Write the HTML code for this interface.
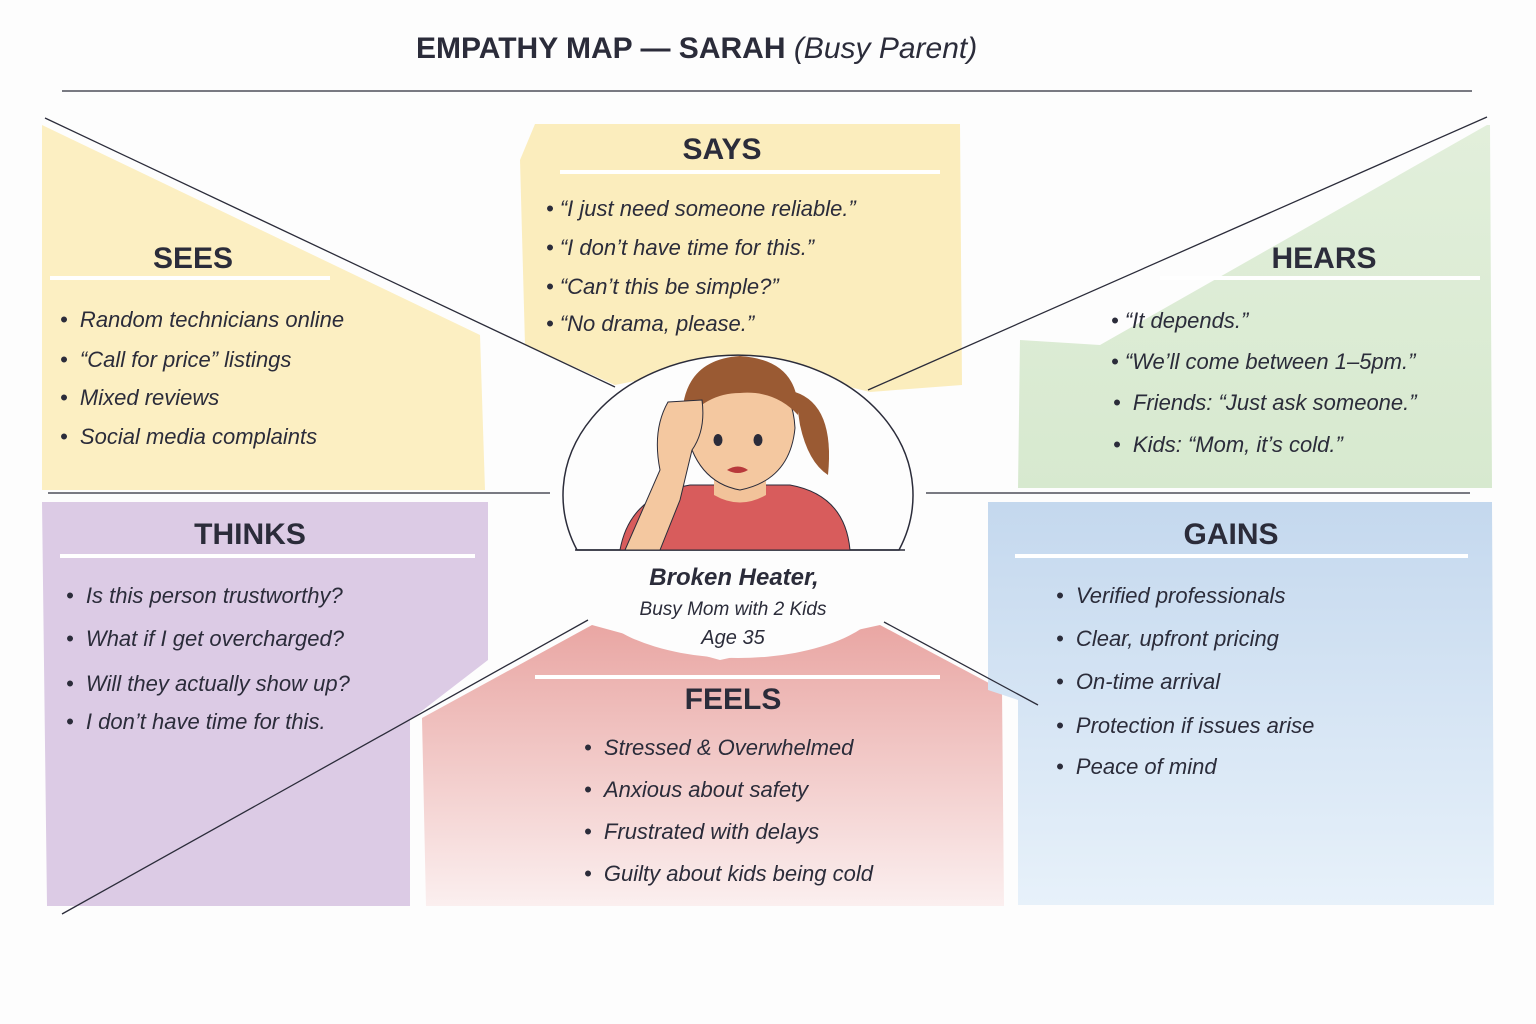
<!DOCTYPE html>
<html><head><meta charset="utf-8">
<style>
body{margin:0;width:1536px;height:1024px;background:#fdfdfd;position:relative;overflow:hidden;font-family:"Liberation Sans",sans-serif;color:#2b2c3a}
.t{position:absolute;white-space:nowrap;line-height:28px;font-style:italic;font-size:22px}
.h{position:absolute;white-space:nowrap;line-height:36px;font-weight:bold;font-size:30px;transform:translateX(-50%)}
.c{position:absolute;white-space:nowrap;transform:translateX(-50%);font-style:italic;line-height:26px}
</style></head><body>
<svg width="1536" height="1024" style="position:absolute;left:0;top:0">
<defs>
<linearGradient id="r" x1="0" y1="0" x2="0" y2="1"><stop offset="0" stop-color="#e9a6a3"/><stop offset="1" stop-color="#fbefef"/></linearGradient>
<linearGradient id="b" x1="0" y1="0" x2="0" y2="1"><stop offset="0" stop-color="#c4d8ee"/><stop offset="1" stop-color="#e7f1fa"/></linearGradient>
<linearGradient id="g" x1="0" y1="0" x2="0" y2="1"><stop offset="0" stop-color="#e2efdb"/><stop offset="1" stop-color="#d7e9cf"/></linearGradient>
</defs>
<polygon points="42,125 480,335 485,490 42,490" fill="#fcefc2"/>
<polygon points="535,124 960,124 962,385 870,392 740,360 615,385 525,345 520,160" fill="#fbedbd"/>
<polygon points="1490,125 1492,488 1018,488 1020,340 1100,345 1487,125" fill="url(#g)"/>
<polygon points="42,502 488,502 488,660 410,720 410,906 47,906" fill="#dccbe5"/>
<polygon points="422,718 592,625 720,660 880,625 1002,690 1004,906 426,906" fill="url(#r)"/>
<polygon points="988,502 1492,502 1494,905 1018,905 1018,700 988,690" fill="url(#b)"/>
<ellipse cx="738" cy="590" rx="150" ry="68" fill="#fdfdfd"/>
<path d="M577,550 A175,140 0 1 1 899,550 Z" fill="#fdfdfd" stroke="#2b2c3a" stroke-width="1.5"/>
<line x1="575" y1="550" x2="905" y2="550" stroke="#2b2c3a" stroke-width="1.5"/>
<g stroke="#2b2c3a" stroke-width="1.3" fill="none">
<line x1="62" y1="91" x2="1472" y2="91"/>
<line x1="45" y1="118" x2="615" y2="387"/>
<line x1="1487" y1="117" x2="868" y2="390"/>
<line x1="48" y1="493" x2="550" y2="493"/>
<line x1="926" y1="493" x2="1470" y2="493"/>
<line x1="588" y1="620" x2="62" y2="914"/>
<line x1="884" y1="622" x2="1038" y2="705"/>
</g>
<g stroke="#fff" stroke-width="4">
<line x1="50" y1="278" x2="330" y2="278"/><line x1="560" y1="172" x2="940" y2="172"/>
<line x1="1160" y1="278" x2="1480" y2="278"/><line x1="60" y1="556" x2="475" y2="556"/>
<line x1="1015" y1="556" x2="1468" y2="556"/><line x1="535" y1="677" x2="940" y2="677"/>
</g>
<!-- person -->
<path d="M620,550 Q630,495 690,485 L790,485 Q845,495 850,550 Z" fill="#d85c5c" stroke="#2b2c3a"/>
<path d="M714,470 L714,495 Q740,510 766,495 L766,470 Z" fill="#f2c39a"/>
<path d="M685,425 Q688,372 740,370 Q792,372 795,428 Q790,480 740,490 Q695,482 685,425 Z" fill="#f4c8a0" stroke="#2b2c3a"/>
<path d="M682,425 Q680,360 740,356 Q800,360 798,415 Q775,390 740,393 Q705,393 682,425 Z" fill="#9a5a33"/>
<path d="M795,392 Q835,405 828,475 Q808,462 800,425 Z" fill="#9a5a33"/>
<ellipse cx="718" cy="440" rx="4.5" ry="6" fill="#2b2c3a"/><ellipse cx="758" cy="440" rx="4.5" ry="6" fill="#2b2c3a"/>
<path d="M727,470 Q738,463 748,470 Q738,476 727,470 Z" fill="#b8393b"/>
<path d="M625,550 L660,470 Q652,430 668,402 L702,400 Q706,430 692,450 L680,500 L660,550 Z" fill="#f4c8a0" stroke="#2b2c3a"/>
</svg>
<div style="position:absolute;left:416px;top:32px;font-size:30px;font-weight:bold;white-space:nowrap">EMPATHY MAP — SARAH <span style="font-weight:normal;font-style:italic">(Busy Parent)</span></div>
<div class="h" style="left:193px;top:241px">SEES</div>
<div class="h" style="left:722px;top:132px">SAYS</div>
<div class="h" style="left:1324px;top:241px">HEARS</div>
<div class="h" style="left:250px;top:517px">THINKS</div>
<div class="h" style="left:1231px;top:517px">GAINS</div>
<div class="h" style="left:733px;top:682px">FEELS</div>

<div class="t" style="left:60px;top:306px">• &nbsp;Random technicians online</div>
<div class="t" style="left:60px;top:346px">• &nbsp;“Call for price” listings</div>
<div class="t" style="left:60px;top:384px">• &nbsp;Mixed reviews</div>
<div class="t" style="left:60px;top:423px">• &nbsp;Social media complaints</div>

<div class="t" style="left:546px;top:195px">• “I just need someone reliable.”</div>
<div class="t" style="left:546px;top:234px">• “I don’t have time for this.”</div>
<div class="t" style="left:546px;top:273px">• “Can’t this be simple?”</div>
<div class="t" style="left:546px;top:310px">• “No drama, please.”</div>

<div class="t" style="left:1111px;top:307px">• “It depends.”</div>
<div class="t" style="left:1111px;top:348px">• “We’ll come between 1–5pm.”</div>
<div class="t" style="left:1113px;top:389px">• &nbsp;Friends: “Just ask someone.”</div>
<div class="t" style="left:1113px;top:431px">• &nbsp;Kids: “Mom, it’s cold.”</div>

<div class="t" style="left:66px;top:582px">• &nbsp;Is this person trustworthy?</div>
<div class="t" style="left:66px;top:625px">• &nbsp;What if I get overcharged?</div>
<div class="t" style="left:66px;top:670px">• &nbsp;Will they actually show up?</div>
<div class="t" style="left:66px;top:708px">• &nbsp;I don’t have time for this.</div>

<div class="t" style="left:1056px;top:582px">• &nbsp;Verified professionals</div>
<div class="t" style="left:1056px;top:625px">• &nbsp;Clear, upfront pricing</div>
<div class="t" style="left:1056px;top:668px">• &nbsp;On-time arrival</div>
<div class="t" style="left:1056px;top:712px">• &nbsp;Protection if issues arise</div>
<div class="t" style="left:1056px;top:753px">• &nbsp;Peace of mind</div>

<div class="t" style="left:584px;top:734px">• &nbsp;Stressed &amp; Overwhelmed</div>
<div class="t" style="left:584px;top:776px">• &nbsp;Anxious about safety</div>
<div class="t" style="left:584px;top:818px">• &nbsp;Frustrated with delays</div>
<div class="t" style="left:584px;top:860px">• &nbsp;Guilty about kids being cold</div>

<div class="c" style="left:734px;top:565px;font-size:24px;font-weight:bold">Broken Heater,</div>
<div class="c" style="left:733px;top:597px;font-size:19px">Busy Mom with 2 Kids</div>
<div class="c" style="left:733px;top:625px;font-size:20px">Age 35</div>
</body></html>
